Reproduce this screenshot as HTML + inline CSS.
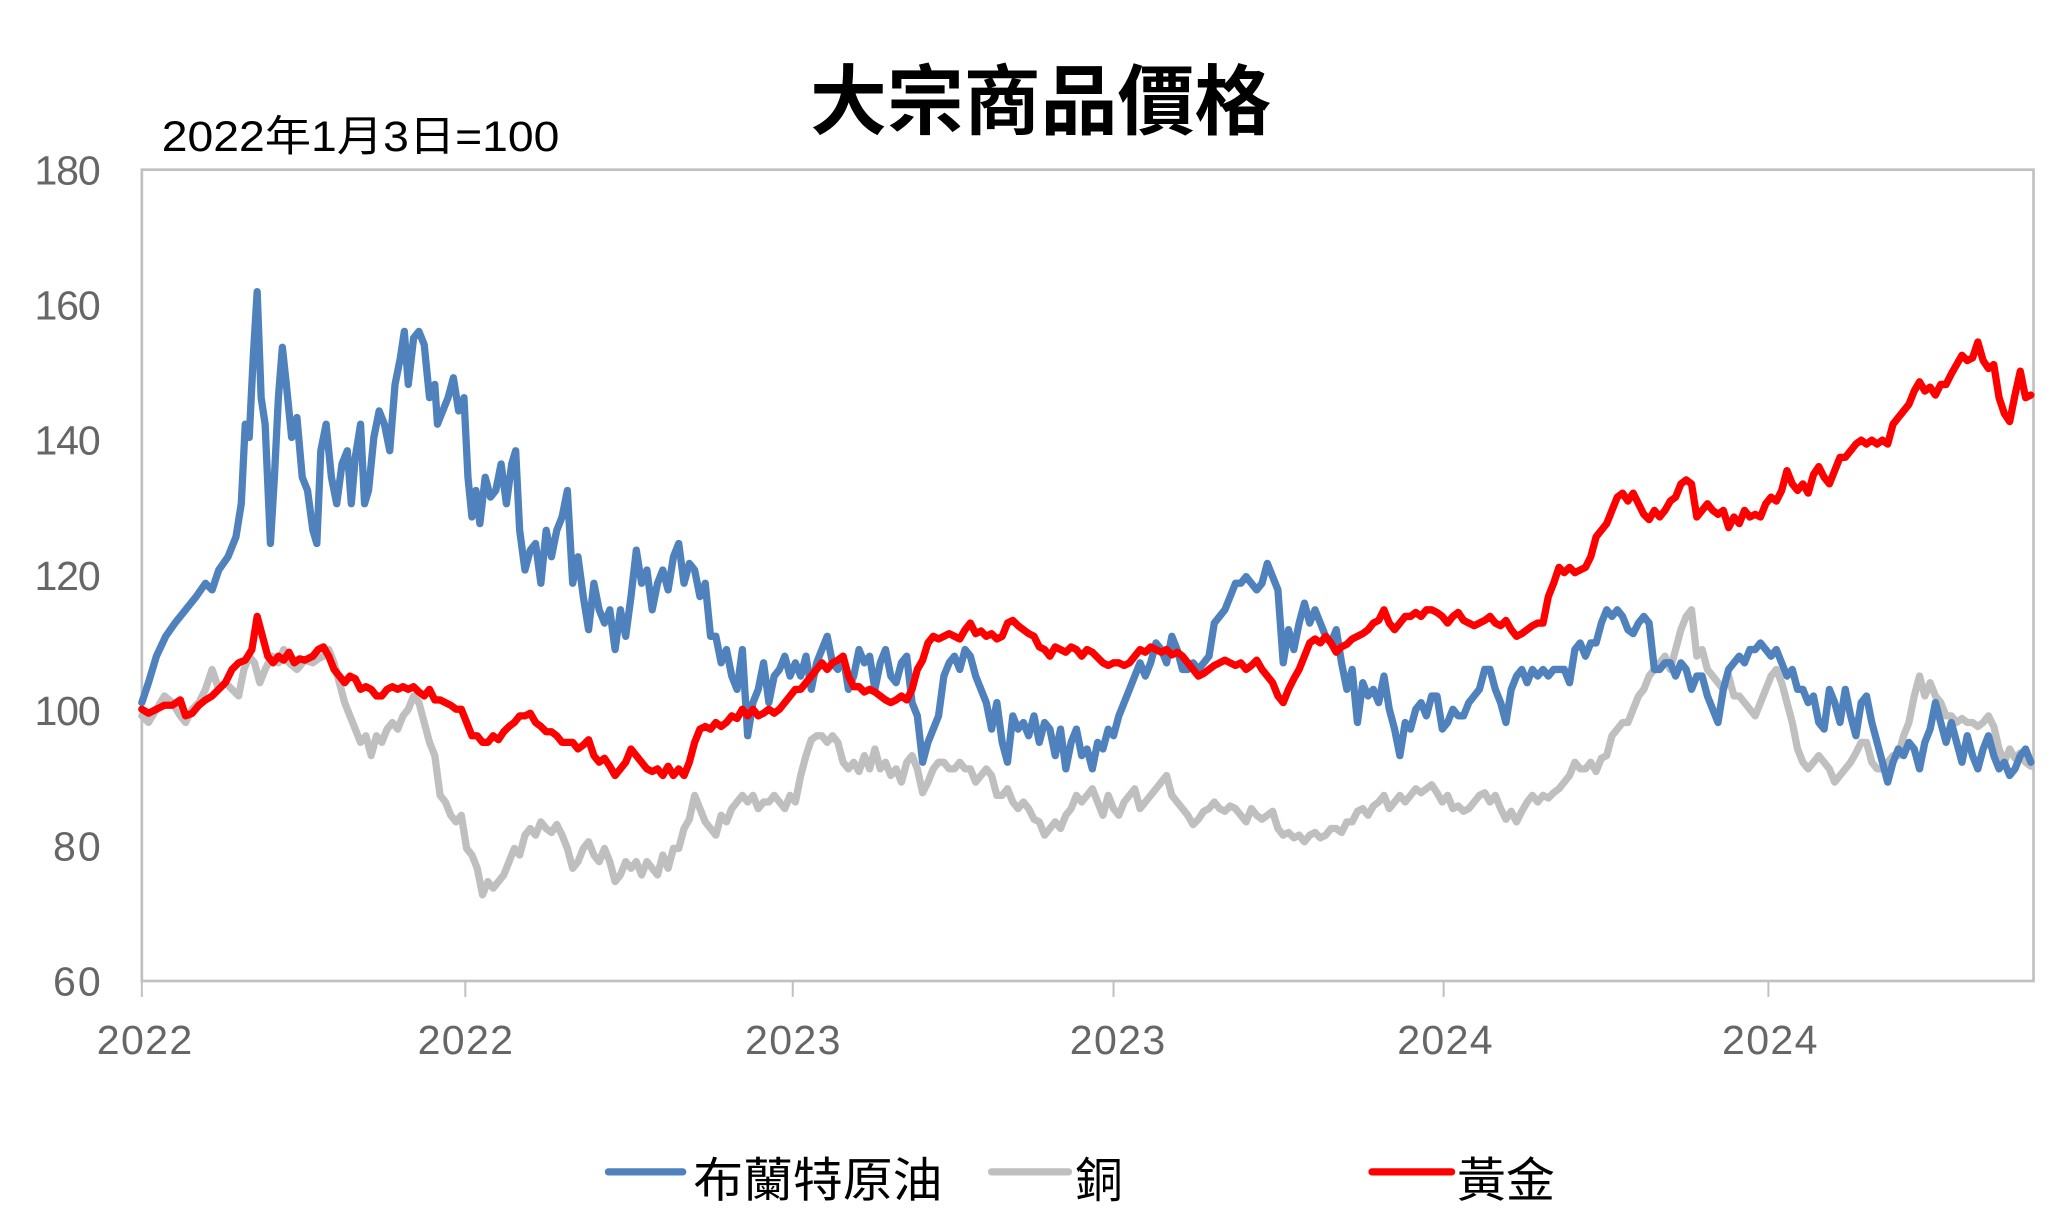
<!DOCTYPE html>
<html><head><meta charset="utf-8"><style>html,body{margin:0;padding:0;background:#fff}svg{display:block}</style></head><body>
<svg width="2068" height="1231" viewBox="0 0 1560 928.6" preserveAspectRatio="none" xmlns="http://www.w3.org/2000/svg">
<rect width="1560" height="929" fill="#fff"/>
<text x="785" y="97" font-family="'Liberation Sans','Noto Sans CJK TC',sans-serif" font-size="58" font-weight="bold" text-anchor="middle" fill="#000">大宗商品價格</text>
<text x="122" y="114" font-family="'Liberation Sans','Noto Sans CJK TC',sans-serif" font-size="32" fill="#000" textLength="300" lengthAdjust="spacingAndGlyphs">2022年1月3日=100</text>
<rect x="107" y="128" width="1427" height="612" fill="none" stroke="#c0c0c0" stroke-width="2"/>
<g stroke="#c0c0c0" stroke-width="1.5"><line x1="107" y1="740" x2="107" y2="752"/><line x1="351" y1="740" x2="351" y2="752"/><line x1="598" y1="740" x2="598" y2="752"/><line x1="840" y1="740" x2="840" y2="752"/><line x1="1089" y1="740" x2="1089" y2="752"/><line x1="1334" y1="740" x2="1334" y2="752"/></g>
<g font-family="'Liberation Sans',sans-serif" font-size="31" fill="#666" text-anchor="end" lengthAdjust="spacingAndGlyphs">
<text x="76" y="139" textLength="50">180</text><text x="76" y="241" textLength="50">160</text><text x="76" y="343" textLength="50">140</text><text x="76" y="445" textLength="50">120</text><text x="76" y="547" textLength="50">100</text><text x="76" y="649" textLength="36">80</text><text x="76" y="751" textLength="36">60</text>
</g>
<g font-family="'Liberation Sans',sans-serif" font-size="31" fill="#666" text-anchor="middle" lengthAdjust="spacingAndGlyphs">
<text x="109" y="795" textLength="72">2022</text><text x="351" y="795" textLength="72">2022</text><text x="598" y="795" textLength="72">2023</text><text x="843" y="795" textLength="72">2023</text><text x="1090" y="795" textLength="72">2024</text><text x="1335" y="795" textLength="72">2024</text>
</g>
<g fill="none" stroke-width="5.5" stroke-linejoin="round" stroke-linecap="round">
<polyline stroke="#bfbfbf" points="107,540 112,545 118,535 124,525 130,530 136,540 140,545 145,535 150,530 155,520 160,505 165,520 170,515 175,520 180,525 184,505 188,495 192,500 196,515 200,505 205,495 210,500 214,490 218,500 224,505 230,498 236,500 240,497 244,495 248,490 252,500 256,515 260,530 264,540 268,550 272,560 276,555 280,570 284,555 288,560 292,550 296,545 300,550 304,540 308,535 312,525 316,530 320,545 324,560 328,570 332,600 336,605 340,615 344,620 348,615 352,640 356,645 360,655 364,675 368,665 372,670 376,665 380,660 384,650 388,640 392,645 396,630 400,625 404,630 408,620 412,625 416,628 420,622 424,630 428,640 432,655 436,650 440,640 444,635 448,645 452,650 456,640 460,650 464,665 468,660 472,650 476,655 480,650 484,660 488,650 492,655 496,660 500,645 504,655 508,640 512,640 516,625 520,618 524,600 528,610 532,620 536,625 540,630 544,615 548,620 552,610 556,605 560,600 564,605 568,600 572,610 576,605 580,605 584,600 588,605 592,610 596,600 600,605 604,585 608,570 612,558 616,555 620,555 624,560 628,555 632,560 636,575 640,580 644,575 648,582 652,570 656,580 660,565 664,580 668,575 672,585 676,580 680,590 684,575 688,570 692,580 696,598 700,590 704,580 708,575 712,575 716,580 720,580 724,575 728,580 732,580 736,590 740,585 744,580 748,585 752,600 756,600 760,595 764,605 768,610 772,605 776,610 780,618 784,620 788,630 792,625 796,620 800,625 804,615 808,610 812,600 816,605 820,600 824,595 828,605 832,615 836,600 840,610 844,615 848,605 852,600 856,595 860,610 864,605 868,600 872,595 876,590 880,585 884,600 888,605 892,610 896,615 900,622 904,618 908,612 912,610 916,605 920,610 924,612 928,608 932,610 936,615 940,620 944,610 948,615 952,618 956,615 960,612 964,625 968,630 972,628 976,632 980,630 984,635 988,630 992,628 996,632 1000,630 1004,625 1008,625 1012,628 1016,620 1020,620 1024,612 1028,610 1032,615 1036,608 1040,605 1044,600 1048,610 1052,605 1056,600 1060,605 1064,600 1068,595 1072,598 1076,595 1080,592 1084,598 1088,605 1092,600 1096,610 1100,608 1104,612 1108,610 1112,605 1116,600 1120,598 1124,605 1128,600 1132,610 1136,618 1140,612 1144,620 1148,612 1152,605 1156,600 1160,605 1164,600 1168,602 1172,598 1176,595 1180,590 1184,585 1188,575 1192,580 1196,580 1200,575 1204,582 1208,572 1212,570 1216,555 1220,550 1224,545 1228,545 1232,535 1236,525 1240,520 1244,510 1248,505 1252,500 1256,495 1260,505 1264,490 1268,475 1272,465 1276,460 1280,495 1284,490 1288,505 1292,510 1296,515 1300,520 1304,510 1308,525 1312,525 1316,530 1320,535 1324,540 1328,530 1332,520 1336,510 1340,505 1344,515 1348,530 1352,545 1356,565 1360,575 1364,580 1368,575 1372,570 1376,575 1380,580 1384,590 1388,585 1392,580 1396,575 1400,568 1404,560 1408,560 1412,575 1416,580 1420,580 1424,575 1428,570 1432,570 1436,555 1440,545 1444,525 1448,510 1452,525 1456,515 1460,525 1464,530 1468,540 1472,540 1476,545 1480,542 1484,545 1488,545 1492,548 1496,545 1500,540 1504,548 1508,565 1512,575 1516,565 1520,572 1524,568 1528,575 1532,578"/>
<polyline stroke="#4f81bd" points="107,530 112,515 118,495 125,480 132,470 140,460 148,450 155,440 160,445 165,430 172,420 178,405 182,380 185,320 188,330 191,270 194,220 197,300 200,320 204,410 207,360 210,300 213,262 216,290 220,330 224,315 228,360 232,370 236,400 239,410 242,340 246,320 250,360 254,380 258,350 262,340 265,380 268,345 272,320 275,380 278,370 282,330 286,310 290,320 294,340 298,290 302,270 305,250 308,290 312,255 316,250 320,260 324,300 328,290 330,320 334,310 338,300 342,285 346,310 350,300 353,360 356,390 359,370 362,395 366,360 370,375 374,370 378,350 382,380 386,350 389,340 392,400 396,430 400,415 404,410 408,440 412,400 416,420 420,400 424,390 428,370 432,440 436,420 440,450 444,475 448,440 452,460 456,470 460,460 464,490 468,460 472,480 476,450 480,415 484,440 488,430 492,460 496,440 500,430 504,445 508,420 512,410 516,440 520,425 524,430 528,450 532,440 536,480 540,480 544,500 548,490 552,510 556,520 560,490 564,555 568,530 572,520 576,500 580,530 584,510 588,505 592,495 596,510 600,500 604,510 608,495 612,520 616,500 620,490 624,480 628,500 632,505 636,495 640,520 644,510 648,490 652,500 656,495 660,520 664,500 668,490 672,510 676,515 680,500 684,495 688,530 692,540 696,575 700,560 704,550 708,540 712,510 716,500 720,495 724,505 728,490 732,495 736,510 740,520 744,530 748,550 752,530 756,560 760,575 764,540 768,550 772,545 776,555 780,540 784,560 788,545 792,550 796,570 800,550 804,580 808,560 812,550 816,570 820,565 824,580 828,560 832,565 836,550 840,555 844,540 848,530 852,520 856,510 860,500 864,510 868,500 872,485 876,490 880,500 884,480 888,490 892,505 896,505 900,500 904,505 908,500 912,495 916,470 920,465 924,460 928,450 932,440 936,440 940,435 944,440 948,445 952,440 956,425 960,435 964,445 968,500 972,475 976,490 980,470 984,455 988,470 992,460 996,470 1000,480 1004,485 1008,475 1012,500 1016,520 1020,505 1024,545 1028,515 1032,525 1036,520 1040,530 1044,510 1048,535 1052,550 1056,570 1060,545 1064,550 1068,535 1072,530 1076,540 1080,525 1084,525 1088,550 1092,545 1096,535 1100,540 1104,540 1108,530 1112,525 1116,520 1120,505 1124,505 1128,520 1132,530 1136,545 1140,520 1144,510 1148,505 1152,515 1156,505 1160,510 1164,505 1168,510 1172,505 1176,505 1180,505 1184,515 1188,490 1192,485 1196,495 1200,485 1204,485 1208,470 1212,460 1216,465 1220,460 1224,465 1228,475 1232,478 1236,470 1240,465 1244,470 1248,505 1252,505 1256,500 1260,500 1264,510 1268,500 1272,505 1276,520 1280,510 1284,510 1288,525 1292,535 1296,545 1300,520 1304,505 1308,500 1312,495 1316,500 1320,490 1324,490 1328,485 1332,490 1336,495 1340,490 1344,500 1348,510 1352,505 1356,520 1360,520 1364,530 1368,525 1372,545 1376,550 1380,520 1384,530 1388,545 1392,520 1396,540 1400,555 1404,530 1408,525 1412,545 1416,560 1420,575 1424,590 1428,575 1432,565 1436,570 1440,560 1444,565 1448,580 1452,560 1456,550 1460,530 1464,545 1468,560 1472,545 1476,560 1480,575 1484,555 1488,570 1492,580 1496,565 1500,555 1504,570 1508,580 1512,575 1516,585 1520,580 1524,570 1528,565 1532,575"/>
<polyline stroke="#ff0000" points="107,535 112,538 118,535 124,532 130,532 136,528 140,540 145,538 150,532 155,528 160,525 165,520 170,515 175,505 180,500 185,498 190,490 194,465 198,480 202,495 206,500 210,495 214,498 218,492 222,500 226,497 230,498 236,495 240,490 244,488 248,495 252,505 256,510 260,515 264,510 268,512 272,520 276,518 280,520 284,525 288,525 292,520 296,518 300,520 304,518 308,520 312,518 316,522 320,525 324,520 328,528 332,528 336,530 340,532 344,535 348,535 352,545 356,555 360,555 364,560 368,560 372,555 376,558 380,552 384,548 388,545 392,540 396,540 400,538 404,545 408,548 412,552 416,552 420,555 424,560 428,560 432,560 436,565 440,562 444,558 448,570 452,575 456,572 460,578 464,585 468,580 472,575 476,565 480,570 484,575 488,580 492,582 496,580 500,585 504,578 508,585 512,580 516,585 520,575 524,560 528,550 532,548 536,550 540,545 544,548 548,545 552,540 556,542 560,535 564,540 568,535 572,540 576,538 580,535 584,538 588,535 592,530 596,525 600,520 604,520 608,515 612,510 616,505 620,500 624,505 628,500 632,498 636,495 640,510 644,518 648,518 652,522 656,520 660,522 664,525 668,528 672,530 676,528 680,525 684,528 688,520 692,505 696,498 700,485 704,480 708,482 712,480 716,478 720,480 724,482 728,475 732,470 736,478 740,476 744,480 748,478 752,482 756,480 760,470 764,468 768,472 772,475 776,478 780,480 784,488 788,490 792,495 796,488 800,490 804,492 808,488 812,490 816,495 820,490 824,492 828,496 832,500 836,502 840,500 844,500 848,502 852,500 856,495 860,490 864,492 868,488 872,490 876,492 880,490 884,494 888,492 892,495 896,500 900,505 904,510 908,508 912,505 916,502 920,500 924,498 928,500 932,502 936,500 940,505 944,502 948,498 952,505 956,510 960,515 964,525 968,530 972,520 976,512 980,505 984,495 988,485 992,482 996,485 1000,480 1004,485 1008,492 1012,488 1016,486 1020,482 1024,480 1028,478 1032,475 1036,470 1040,468 1044,460 1048,470 1052,475 1056,470 1060,465 1064,465 1068,462 1072,465 1076,460 1080,460 1084,462 1088,465 1092,470 1096,465 1100,462 1104,468 1108,470 1112,472 1116,470 1120,468 1124,465 1128,470 1132,472 1136,468 1140,475 1144,480 1148,478 1152,475 1156,472 1160,470 1164,470 1168,450 1172,440 1176,428 1180,432 1184,428 1188,432 1192,430 1196,428 1200,420 1204,405 1208,400 1212,395 1216,385 1220,375 1224,372 1228,378 1232,372 1236,380 1240,388 1244,392 1248,385 1252,390 1256,385 1260,378 1264,375 1268,365 1272,362 1276,365 1280,390 1284,385 1288,380 1292,385 1296,388 1300,385 1304,398 1308,390 1312,395 1316,385 1320,390 1324,388 1328,390 1332,380 1336,375 1340,378 1344,370 1348,355 1352,365 1356,370 1360,365 1364,372 1368,358 1372,352 1376,360 1380,365 1384,355 1388,345 1392,345 1396,340 1400,335 1404,332 1408,335 1412,332 1416,335 1420,332 1424,335 1428,320 1432,315 1436,310 1440,305 1444,295 1448,288 1452,295 1456,292 1460,298 1464,290 1468,290 1472,282 1476,275 1480,268 1484,272 1488,270 1492,258 1496,272 1500,278 1504,275 1508,300 1512,312 1516,318 1520,298 1524,280 1528,300 1532,298"/>
</g>
<g stroke-width="5.5" stroke-linecap="round">
<line x1="459" y1="884" x2="515" y2="884" stroke="#4f81bd"/>
<line x1="748" y1="884" x2="806" y2="884" stroke="#bfbfbf"/>
<line x1="1035" y1="884" x2="1095" y2="884" stroke="#ff0000"/>
</g>
<g font-family="'Liberation Sans','Noto Sans CJK TC',sans-serif" font-size="36" fill="#000">
<text x="523" y="903" textLength="188" lengthAdjust="spacingAndGlyphs">布蘭特原油</text>
<text x="811" y="903">銅</text>
<text x="1099" y="903" textLength="74" lengthAdjust="spacingAndGlyphs">黃金</text>
</g>
</svg>
</body></html>
